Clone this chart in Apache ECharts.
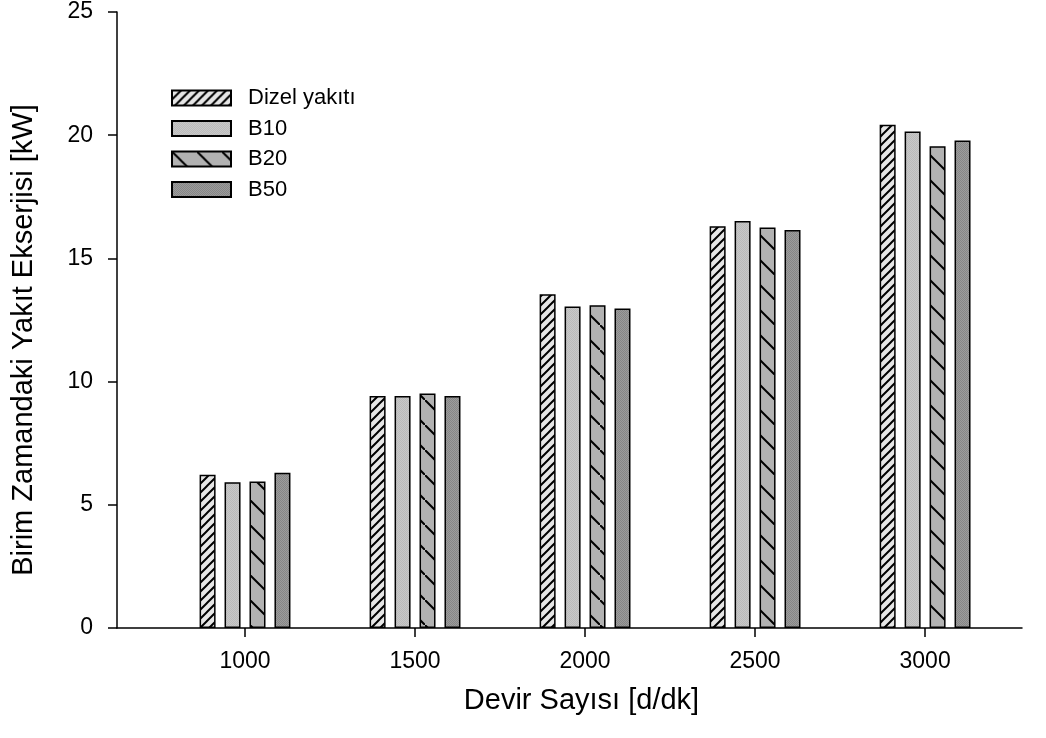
<!DOCTYPE html>
<html>
<head>
<meta charset="utf-8">
<script src="https://cdn.jsdelivr.net/npm/echarts@6/dist/echarts.min.js"></script>
<style>
  html, body { margin: 0; padding: 0; background: #fff; }
  #chart { width: 1046px; height: 738px; }
</style>
</head>
<body>
<div id="chart"></div>
<script>
// devir sayisi (x) ve seriler
const rpm = [1000, 1500, 2000, 2500, 3000]
const dizel = [6.22, 9.42, 13.55, 16.3, 20.42]
const b10 = [5.92, 9.42, 13.05, 16.52, 20.15]
const b20 = [5.95, 9.52, 13.1, 16.25, 19.55]
const b50 = [6.3, 9.42, 12.97, 16.15, 19.78]
const yTicks = [0, 5, 10, 15, 20, 25]

const FONT = 'Liberation Sans, Arial, Helvetica, sans-serif'

// desen dolgulari
function makePattern(size, bg, draw) {
  const c = document.createElement('canvas')
  c.width = size
  c.height = size
  const ctx = c.getContext('2d')
  ctx.fillStyle = bg
  ctx.fillRect(0, 0, size, size)
  draw(ctx, size)
  return { image: c, repeat: 'repeat' }
}

const slashFill = makePattern(9, '#e6e6e6', (ctx, s) => {
  ctx.strokeStyle = '#000'
  ctx.lineWidth = 2
  ctx.beginPath()
  ctx.moveTo(-1, s + 1); ctx.lineTo(s + 1, -1)
  ctx.moveTo(-2, 2); ctx.lineTo(2, -2)
  ctx.moveTo(s - 2, s + 2); ctx.lineTo(s + 2, s - 2)
  ctx.stroke()
})

const lightFill = makePattern(2, '#c8c8c8', (ctx) => {
  ctx.fillStyle = '#bababa'
  ctx.fillRect(0, 0, 1, 1)
  ctx.fillRect(1, 1, 1, 1)
})

const backFill = makePattern(25, '#b2b2b2', (ctx, s) => {
  ctx.strokeStyle = '#000'
  ctx.lineWidth = 2
  ctx.beginPath()
  ctx.moveTo(-2, -2); ctx.lineTo(s + 2, s + 2)
  ctx.stroke()
})

const darkFill = makePattern(2, '#9c9c9c', (ctx) => {
  ctx.fillStyle = '#868686'
  ctx.fillRect(0, 0, 1, 1)
  ctx.fillRect(1, 1, 1, 1)
})

function barSeries(name, values, fill) {
  return {
    name: name,
    type: 'bar',
    barWidth: 16,
    barGap: '56%',
    data: rpm.map((r, i) => [r, values[i]]),
    itemStyle: {
      color: fill,
      borderColor: '#000',
      borderWidth: 1.5
    },
    emphasis: { disabled: true },
    animation: false
  }
}

const chart = echarts.init(document.getElementById('chart'))
chart.setOption({
  backgroundColor: '#fff',
  animation: false,
  grid: {
    left: 117,
    right: 24,
    top: 12,
    bottom: 110
  },
  legend: {
    orient: 'vertical',
    left: 171,
    top: 87,
    padding: 0,
    itemWidth: 59,
    itemHeight: 15,
    itemGap: 8.5,
    icon: 'rect',
    textStyle: { fontFamily: FONT, fontSize: 22, color: '#000', padding: [0, 0, 0, 12] },
    data: ['Dizel yakıtı', 'B10', 'B20', 'B50']
  },
  xAxis: {
    type: 'value',
    min: 623.5,
    max: 3285,
    name: 'Devir Sayısı [d/dk]',
    nameLocation: 'middle',
    nameGap: 58,
    nameTextStyle: { fontFamily: FONT, fontSize: 29, color: '#000', padding: [0, 0, 0, 24] },
    axisLine: { onZero: false, lineStyle: { color: '#000', width: 1.5 } },
    axisTick: { show: true, inside: false, length: 9, customValues: rpm, lineStyle: { color: '#000', width: 1.5 } },
    axisLabel: {
      customValues: rpm,
      margin: 22,
      fontFamily: FONT,
      fontSize: 23,
      color: '#000',
      formatter: (v) => String(v)
    },
    splitLine: { show: false }
  },
  yAxis: {
    type: 'value',
    min: 0,
    max: 25,
    interval: 5,
    name: 'Birim Zamandaki Yakıt Ekserjisi [kW]',
    nameLocation: 'middle',
    nameGap: 79,
    nameTextStyle: { fontFamily: FONT, fontSize: 29, color: '#000', padding: [0, 40, 0, 0] },
    axisLine: { show: true, lineStyle: { color: '#000', width: 1.5 } },
    axisTick: { show: true, inside: false, length: 9, lineStyle: { color: '#000', width: 1.5 } },
    axisLabel: {
      margin: 24,
      fontFamily: FONT,
      fontSize: 23,
      color: '#000',
      formatter: (v) => (yTicks.indexOf(v) >= 0 ? String(v) : '')
    },
    splitLine: { show: false }
  },
  series: [
    barSeries('Dizel yakıtı', dizel, slashFill),
    barSeries('B10', b10, lightFill),
    barSeries('B20', b20, backFill),
    barSeries('B50', b50, darkFill)
  ]
})
</script>
</body>
</html>
